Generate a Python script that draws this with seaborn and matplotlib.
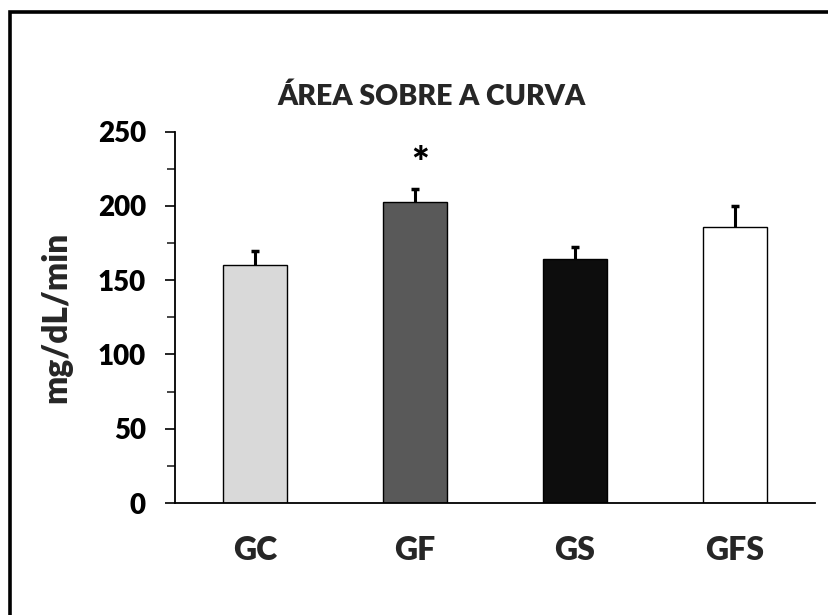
import matplotlib
matplotlib.use("Agg")
import matplotlib.pyplot as plt
import matplotlib.patches as mpatches
from matplotlib.ticker import MultipleLocator
import seaborn as sns
import pandas as pd

categories = ["GC", "GF", "GS", "GFS"]
means = [160, 202.5, 164.5, 186]
sem = [10, 9, 8, 14]
colors = ["#d9d9d9", "#595959", "#0d0d0d", "#ffffff"]
title = "ÁREA SOBRE A CURVA"
ylabel = "mg/dL/min"
signif = ["", "*", "", ""]

sns.set_theme(style="white")
plt.rcParams["font.family"] = ["Lato", "DejaVu Sans"]
plt.rcParams["font.weight"] = "heavy"
W = "heavy"

df = pd.DataFrame({"grupo": categories, "valor": means})

fig = plt.figure(figsize=(8.29, 6.15), dpi=100)
ax = fig.add_axes([175/829, 1 - 503/615, (815-175)/829, (503-131.7)/615])

sns.barplot(data=df, x="grupo", y="valor", hue="grupo", palette=colors,
            edgecolor="black", linewidth=1.0, width=0.4, legend=False, ax=ax)

xs = list(range(len(categories)))
tops = [m + e for m, e in zip(means, sem)]
ax.vlines(xs, means, tops, colors="black", linewidth=2.2, zorder=3)
ax.plot(xs, tops, linestyle="none", marker="_", markersize=6,
        markeredgewidth=2.5, color="black", zorder=3)

for x, t, s in zip(xs, tops, signif):
    if s:
        ax.text(x + 0.03, t + 16, s, ha="center", va="center",
                fontsize=30, fontweight=W, color="black")

ax.set_ylim(0, 250)
ax.set_xlim(-0.5, 3.5)
ax.yaxis.set_major_locator(MultipleLocator(50))
ax.yaxis.set_minor_locator(MultipleLocator(25))
ax.tick_params(axis="y", which="major", direction="out", length=7, width=1.2,
               labelsize=20, pad=14, left=True, colors="black")
ax.tick_params(axis="y", which="minor", direction="out", length=6, width=1.2, left=True)
ax.tick_params(axis="x", length=0, labelsize=23, pad=24)
for lab in ax.get_xticklabels() + ax.get_yticklabels():
    lab.set_fontweight(W)

for side in ["top", "right"]:
    ax.spines[side].set_visible(False)
for side in ["left", "bottom"]:
    ax.spines[side].set_color("black")
    ax.spines[side].set_linewidth(1.3)

ax.set_xlabel("")
ax.set_ylabel(ylabel, fontsize=24, fontweight=W)
ax.yaxis.set_label_coords(-0.16, 0.5)
fig.text(432/829, 1 - 97/615, title, ha="center", va="center",
         fontsize=20.5, fontweight=W)

fig.patches.append(mpatches.Rectangle((10/829, -0.1), 1.2, 1 - 12.5/615 + 0.1,
                                      transform=fig.transFigure, fill=False,
                                      edgecolor="black", linewidth=2.6))

fig.savefig("out.png", dpi=100, facecolor="white")
